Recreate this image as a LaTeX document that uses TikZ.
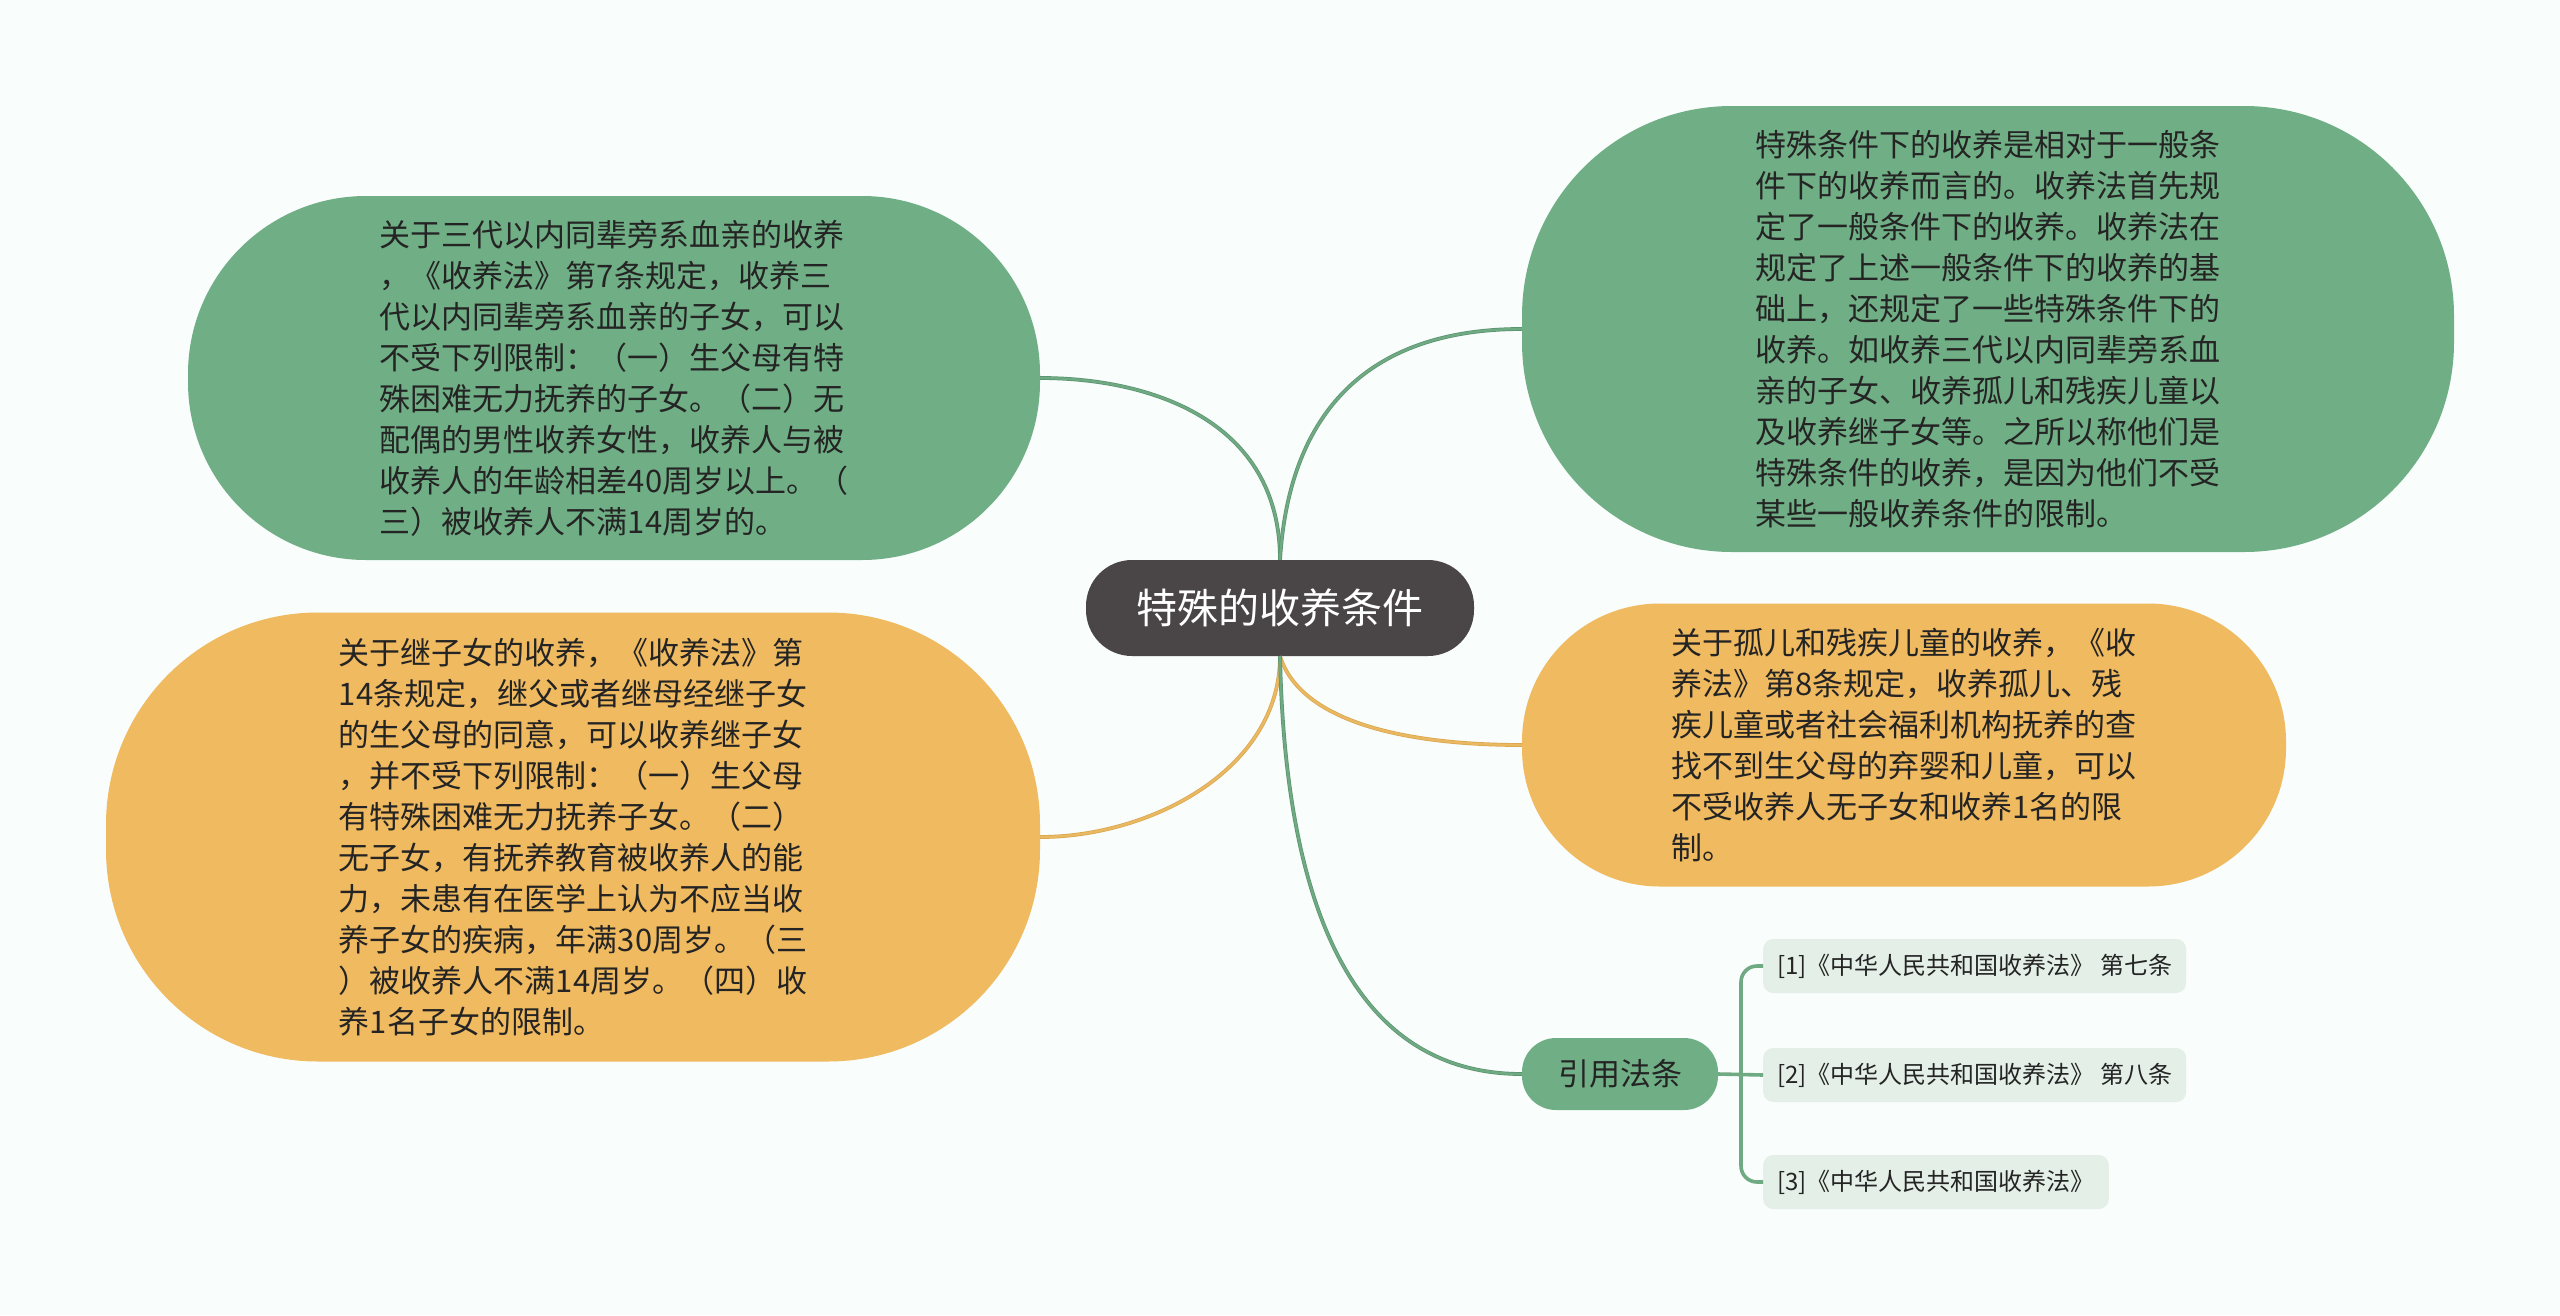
\documentclass[tikz,border=0pt]{standalone}
\usepackage{fontspec}
\setmainfont{Noto Sans CJK SC}
\usetikzlibrary{calc}
\definecolor{bgcol}{HTML}{F9FDFC}
\definecolor{rootgray}{HTML}{4A4546}
\definecolor{boxgreen}{HTML}{70AF85}
\definecolor{boxorange}{HTML}{F0BA60}
\definecolor{reffill}{HTML}{E3EFE7}
\definecolor{lnggreen}{HTML}{6FAA82}
\definecolor{edgegreen}{HTML}{5A9270}
\definecolor{lnorange}{HTML}{EBB862}
\definecolor{edgeorange}{HTML}{D9A650}
\definecolor{textcol}{HTML}{242424}

\begin{document}
\begin{tikzpicture}[x=1pt,y=-1pt,
  main/.style={fill=rootgray,text=white,rounded corners=46pt,minimum width=388pt,minimum height=96pt,font=\fontsize{41}{48}\selectfont},
  topic/.style={align=left,text=textcol,font=\fontsize{31}{41}\selectfont},
  greenbox/.style={topic,fill=boxgreen},
  orangebox/.style={topic,fill=boxorange},
  lawbox/.style={fill=boxgreen,text=textcol,rounded corners=34pt,minimum width=196pt,minimum height=72pt,font=\fontsize{31}{38}\selectfont},
  refbox/.style={anchor=west,fill=reffill,text=textcol,rounded corners=10pt,inner xsep=14pt,minimum height=54pt,font=\fontsize{24}{30}\selectfont},
  gline/.style={draw=edgegreen,double=lnggreen,double distance=2.4pt,line width=0.7pt},
  oline/.style={draw=edgeorange,double=lnorange,double distance=2.4pt,line width=0.7pt},
  fork/.style={draw=lnggreen,line width=3.6pt,rounded corners=16pt}]

\useasboundingbox[fill=bgcol] (0,0) rectangle (2560,1315);

\node[main] (root) at (1280,608) {特殊的收养条件};

\node[greenbox,minimum width=852pt,minimum height=364pt,rounded corners=178pt] (kin) at (614,378) {关于三代以内同辈旁系血亲的收养\\，《收养法》第7条规定，收养三\\代以内同辈旁系血亲的子女，可以\\不受下列限制：（一）生父母有特\\殊困难无力抚养的子女。（二）无\\配偶的男性收养女性，收养人与被\\收养人的年龄相差40周岁以上。（\\三）被收养人不满14周岁的。};

\node[greenbox,minimum width=932pt,minimum height=446pt,rounded corners=210pt] (intro) at (1988,329) {特殊条件下的收养是相对于一般条\\件下的收养而言的。收养法首先规\\定了一般条件下的收养。收养法在\\规定了上述一般条件下的收养的基\\础上，还规定了一些特殊条件下的\\收养。如收养三代以内同辈旁系血\\亲的子女、收养孤儿和残疾儿童以\\及收养继子女等。之所以称他们是\\特殊条件的收养，是因为他们不受\\某些一般收养条件的限制。};

\node[orangebox,minimum width=934pt,minimum height=449pt,rounded corners=212pt] (step) at (573,837) {关于继子女的收养，《收养法》第\\14条规定，继父或者继母经继子女\\的生父母的同意，可以收养继子女\\，并不受下列限制：（一）生父母\\有特殊困难无力抚养子女。（二）\\无子女，有抚养教育被收养人的能\\力，未患有在医学上认为不应当收\\养子女的疾病，年满30周岁。（三\\）被收养人不满14周岁。（四）收\\养1名子女的限制。};

\node[orangebox,minimum width=764pt,minimum height=283pt,rounded corners=138pt] (orphan) at (1904,745) {关于孤儿和残疾儿童的收养，《收\\养法》第8条规定，收养孤儿、残\\疾儿童或者社会福利机构抚养的查\\找不到生父母的弃婴和儿童，可以\\不受收养人无子女和收养1名的限\\制。};

\node[lawbox] (law) at (1620,1074) {引用法条};

\node[refbox] (ref1) at (1763,966) {[1]《中华人民共和国收养法》 第七条};
\node[refbox] (ref2) at (1763,1075) {[2]《中华人民共和国收养法》 第八条};
\node[refbox] (ref3) at (1763,1182) {[3]《中华人民共和国收养法》};

\coordinate (split) at (1741,1074);

\draw[gline] (root.north) .. controls (1280,420) and (1150,378) .. (kin.east);
\draw[gline] (root.north) .. controls (1290,400) and (1380,329) .. (intro.west);
\draw[oline] (root.south) .. controls (1280,770) and (1150,837) .. (step.east);
\draw[oline] (root.south) .. controls (1300,720) and (1400,745) .. (orphan.west);
\draw[gline] (root.south) .. controls (1285,900) and (1350,1074) .. (law.west);

\draw[fork] (law.east) -- (ref2.west);
\draw[fork] (split) |- (ref1.west);
\draw[fork] (split) |- (ref3.west);

\end{tikzpicture}
\end{document}
